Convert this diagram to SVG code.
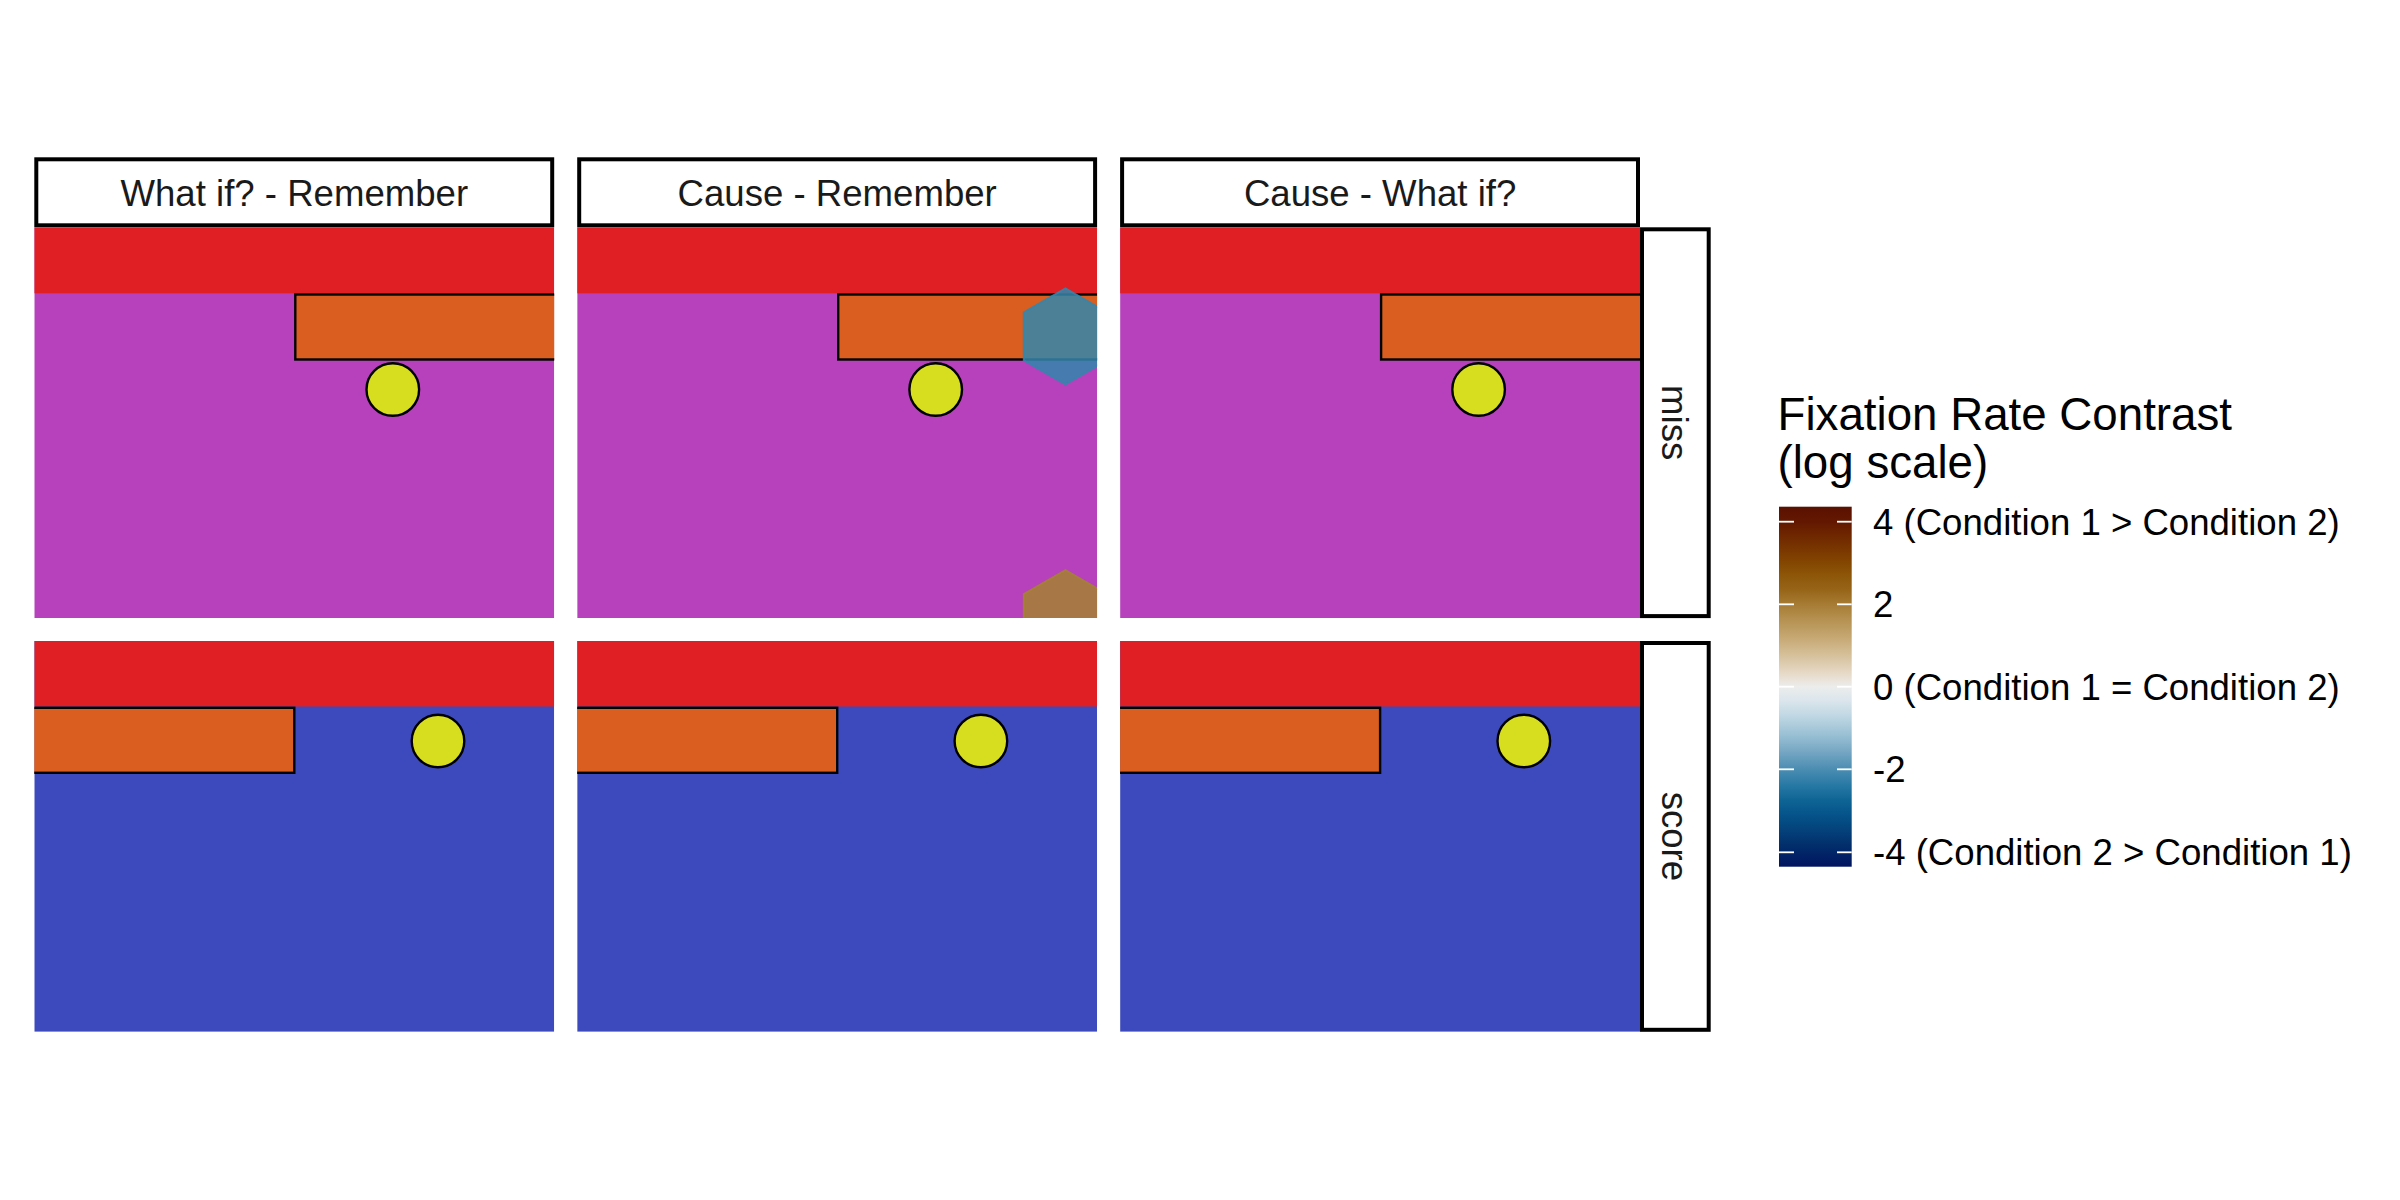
<svg xmlns="http://www.w3.org/2000/svg" width="2400" height="1200" viewBox="0 0 2400 1200">
<style>
  .strip { fill: #ffffff; stroke: #000000; stroke-width: 4; }
  .stxt { font-family: "Liberation Sans", Arial, sans-serif; font-size: 36.6px; fill: #1a1a1a; text-anchor: middle; }
  .red { fill: #df1f23; }
  .pur { fill: #b740bd; }
  .blu { fill: #3d4abd; }
  .ora { fill: #da5e1f; stroke: #000000; stroke-width: 2.4; }
  .yel { fill: #d7de1f; stroke: #000000; stroke-width: 2.4; }
  .ltitle { font-family: "Liberation Sans", Arial, sans-serif; font-size: 45.7px; fill: #000000; }
  .ltxt { font-family: "Liberation Sans", Arial, sans-serif; font-size: 36.6px; fill: #000000; }
  .tick { stroke: #ffffff; stroke-width: 1.8; }
</style>
<defs>
  <clipPath id="pc" clipPathUnits="userSpaceOnUse">
    <rect x="0" y="0" width="519.9" height="390.8"/>
  </clipPath>
  <linearGradient id="cbar" x1="0" y1="0" x2="0" y2="1">
    <stop offset="0" stop-color="#5a1100"/>
    <stop offset="0.042" stop-color="#621800"/>
    <stop offset="0.0925" stop-color="#722c00"/>
    <stop offset="0.148" stop-color="#824300"/>
    <stop offset="0.19" stop-color="#8d5608"/>
    <stop offset="0.231" stop-color="#976518"/>
    <stop offset="0.271" stop-color="#a67b34"/>
    <stop offset="0.315" stop-color="#b69252"/>
    <stop offset="0.37" stop-color="#c8ab78"/>
    <stop offset="0.426" stop-color="#dac7a6"/>
    <stop offset="0.468" stop-color="#e8dccc"/>
    <stop offset="0.5" stop-color="#ecedec"/>
    <stop offset="0.537" stop-color="#dce6ec"/>
    <stop offset="0.579" stop-color="#c1d8e4"/>
    <stop offset="0.634" stop-color="#99c0d4"/>
    <stop offset="0.676" stop-color="#79a9c5"/>
    <stop offset="0.729" stop-color="#4b8db2"/>
    <stop offset="0.773" stop-color="#2879a5"/>
    <stop offset="0.815" stop-color="#0e6595"/>
    <stop offset="0.856" stop-color="#05538a"/>
    <stop offset="0.898" stop-color="#04427b"/>
    <stop offset="0.94" stop-color="#022f6c"/>
    <stop offset="1" stop-color="#00145f"/>
  </linearGradient>
</defs>
<rect x="0" y="0" width="2400" height="1200" fill="#ffffff"/>

<!-- top strips -->
<g id="strip-what-if-remember">
  <rect class="strip" x="36.3" y="159.3" width="515.9" height="66"/>
  <text class="stxt" x="294.3" y="205.6">What if? - Remember</text>
</g>
<g id="strip-cause-remember">
  <rect class="strip" x="579.2" y="159.3" width="515.9" height="66"/>
  <text class="stxt" x="837.2" y="205.6">Cause - Remember</text>
</g>
<g id="strip-cause-what-if">
  <rect class="strip" x="1122.1" y="159.3" width="515.9" height="66"/>
  <text class="stxt" x="1380.1" y="205.6">Cause - What if?</text>
</g>

<!-- right strips -->
<g id="strip-miss">
  <rect class="strip" x="1642" y="229.3" width="66.7" height="386.8"/>
  <text class="stxt" transform="translate(1662,422.7) rotate(90)" x="0" y="0">miss</text>
</g>
<g id="strip-score">
  <rect class="strip" x="1642" y="643" width="66.7" height="386.8"/>
  <text class="stxt" transform="translate(1662,836.4) rotate(90)" x="0" y="0">score</text>
</g>

<!-- row 1 panels (miss) -->
<g id="panel-miss-1" transform="translate(34.3,227.3)">
  <g clip-path="url(#pc)">
    <rect class="pur" x="0" y="0" width="519.9" height="390.8"/>
    <rect class="red" x="0" y="0" width="519.9" height="66"/>
    <rect class="ora" x="261" y="67.2" width="262" height="65"/>
    <circle class="yel" cx="358.5" cy="162.2" r="26.3"/>
  </g>
</g>
<g id="panel-miss-2" transform="translate(577.2,227.3)">
  <g clip-path="url(#pc)">
    <rect class="pur" x="0" y="0" width="519.9" height="390.8"/>
    <rect class="red" x="0" y="0" width="519.9" height="66"/>
    <rect class="ora" x="261" y="67.2" width="262" height="65"/>
    <circle class="yel" cx="358.5" cy="162.2" r="26.3"/>
    <polygon points="488.2,61 529.8,85 529.8,133 488.2,157 446.6,133 446.6,85" fill="#3286ad" fill-opacity="0.85" stroke="#3286ad" stroke-opacity="0.85" stroke-width="2"/>
    <polygon points="488.2,342.8 529.8,366.8 529.8,414.8 488.2,438.8 446.6,414.8 446.6,366.8" fill="#a58230" fill-opacity="0.85" stroke="#a58230" stroke-opacity="0.85" stroke-width="2"/>
  </g>
</g>
<g id="panel-miss-3" transform="translate(1120.1,227.3)">
  <g clip-path="url(#pc)">
    <rect class="pur" x="0" y="0" width="519.9" height="390.8"/>
    <rect class="red" x="0" y="0" width="519.9" height="66"/>
    <rect class="ora" x="261" y="67.2" width="262" height="65"/>
    <circle class="yel" cx="358.5" cy="162.2" r="26.3"/>
  </g>
</g>

<!-- row 2 panels (score) -->
<g id="panel-score-1" transform="translate(34.3,641)">
  <g clip-path="url(#pc)">
    <rect class="blu" x="0" y="0" width="519.9" height="390.8"/>
    <rect class="red" x="0" y="0" width="519.9" height="65.5"/>
    <rect class="ora" x="-3" y="66.8" width="263" height="65"/>
    <circle class="yel" cx="403.7" cy="100" r="26.3"/>
  </g>
</g>
<g id="panel-score-2" transform="translate(577.2,641)">
  <g clip-path="url(#pc)">
    <rect class="blu" x="0" y="0" width="519.9" height="390.8"/>
    <rect class="red" x="0" y="0" width="519.9" height="65.5"/>
    <rect class="ora" x="-3" y="66.8" width="263" height="65"/>
    <circle class="yel" cx="403.7" cy="100" r="26.3"/>
  </g>
</g>
<g id="panel-score-3" transform="translate(1120.1,641)">
  <g clip-path="url(#pc)">
    <rect class="blu" x="0" y="0" width="519.9" height="390.8"/>
    <rect class="red" x="0" y="0" width="519.9" height="65.5"/>
    <rect class="ora" x="-3" y="66.8" width="263" height="65"/>
    <circle class="yel" cx="403.7" cy="100" r="26.3"/>
  </g>
</g>

<!-- legend -->
<g id="legend">
  <text class="ltitle" x="1777.5" y="430">Fixation Rate Contrast</text>
  <text class="ltitle" x="1777.5" y="478">(log scale)</text>
  <rect x="1779" y="506.7" width="72.7" height="360" fill="url(#cbar)"/>
  <g id="legend-ticks">
    <line class="tick" x1="1779" y1="521.7" x2="1794" y2="521.7"/>
    <line class="tick" x1="1837" y1="521.7" x2="1851.7" y2="521.7"/>
    <line class="tick" x1="1779" y1="604.3" x2="1794" y2="604.3"/>
    <line class="tick" x1="1837" y1="604.3" x2="1851.7" y2="604.3"/>
    <line class="tick" x1="1779" y1="686.7" x2="1794" y2="686.7"/>
    <line class="tick" x1="1837" y1="686.7" x2="1851.7" y2="686.7"/>
    <line class="tick" x1="1779" y1="769.3" x2="1794" y2="769.3"/>
    <line class="tick" x1="1837" y1="769.3" x2="1851.7" y2="769.3"/>
    <line class="tick" x1="1779" y1="852.3" x2="1794" y2="852.3"/>
    <line class="tick" x1="1837" y1="852.3" x2="1851.7" y2="852.3"/>
  </g>
  <text class="ltxt" x="1873" y="534.8">4 (Condition 1 &gt; Condition 2)</text>
  <text class="ltxt" x="1873" y="617.4">2</text>
  <text class="ltxt" x="1873" y="699.8">0 (Condition 1 = Condition 2)</text>
  <text class="ltxt" x="1873" y="782.4">-2</text>
  <text class="ltxt" x="1873" y="865.4">-4 (Condition 2 &gt; Condition 1)</text>
</g>
</svg>
